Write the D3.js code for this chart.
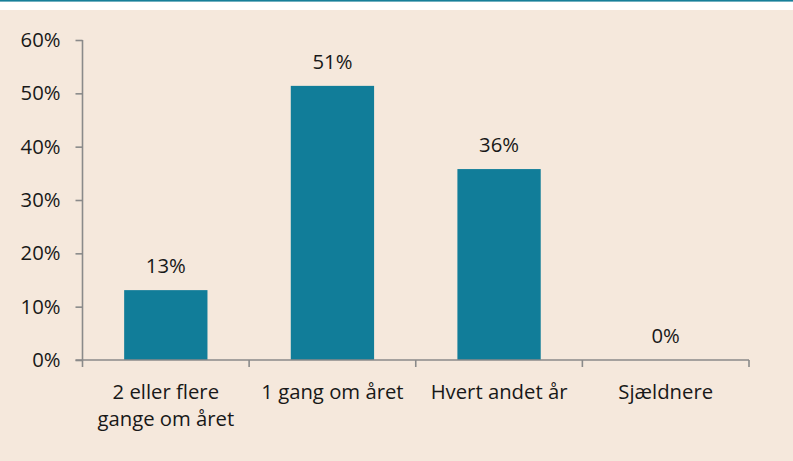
<!DOCTYPE html>
<html>
<head>
<meta charset="utf-8">
<script src="https://cdn.jsdelivr.net/npm/d3@7"></script>
<style>
  html, body { margin: 0; padding: 0; background: #ffffff; }
  svg { display: block; }
  text { font-family: "Open Sans", "Noto Sans", sans-serif; fill: #181818; }
</style>
</head>
<body>
<svg id="chart" width="793" height="461"></svg>
<script>
const categories = [["2 eller flere", "gange om året"], ["1 gang om året"], ["Hvert andet år"], ["Sjældnere"]];
const values = [13.1, 51.4, 35.8, 0];
const valueLabels = ["13%", "51%", "36%", "0%"];
const yTicks = [0, 10, 20, 30, 40, 50, 60];

const W = 793, H = 461;
const svg = d3.select("#chart");

// background
svg.append("rect").attr("x", 0).attr("y", 0).attr("width", W).attr("height", H).attr("fill", "#ffffff");
svg.append("rect").attr("x", 0).attr("y", 10).attr("width", W).attr("height", H - 10).attr("fill", "#f5e8dc");
svg.append("rect").attr("x", 0).attr("y", 0).attr("width", W).attr("height", 1.6).attr("fill", "#177f99");

const mLeft = 82.5, mRight = 749, mTop = 40, mBottom = 360;
const x = d3.scaleBand().domain(d3.range(categories.length)).range([mLeft, mRight]).paddingInner(0.5).paddingOuter(0.25);
const y = d3.scaleLinear().domain([0, 60]).range([mBottom, mTop]);

const axisColor = "#8a8a8a";
const fs = 20.3;

// bars
svg.append("g").selectAll("rect").data(values).join("rect")
  .attr("x", (d, i) => x(i))
  .attr("width", x.bandwidth())
  .attr("y", d => y(d))
  .attr("height", d => y(0) - y(d))
  .attr("fill", "#117d99");

// y axis
const yAxis = d3.axisLeft(y).tickValues(yTicks).tickSize(7).tickFormat(d => d + "%");
const gy = svg.append("g").attr("transform", `translate(${mLeft},0)`).call(yAxis);
gy.select(".domain").attr("stroke", axisColor).attr("stroke-width", 1.6).attr("d", `M0,${mTop}V${mBottom}`);
gy.selectAll(".tick line").attr("stroke", axisColor).attr("stroke-width", 1.6);
gy.selectAll(".tick text").attr("x", -22).attr("dy", "0.32em")
  .style("font-size", fs + "px").style("font-family", '"Open Sans", "Noto Sans", sans-serif').attr("fill", "#181818");

// x axis line with boundary ticks
const step = x.step();
const boundaries = d3.range(categories.length + 1).map(i => mLeft + i * step);
const gx = svg.append("g");
gx.append("line").attr("x1", mLeft - 7).attr("x2", mRight).attr("y1", mBottom).attr("y2", mBottom)
  .attr("stroke", axisColor).attr("stroke-width", 1.6);
gx.selectAll("line.bt").data(boundaries).join("line").attr("class", "bt")
  .attr("x1", d => d).attr("x2", d => d).attr("y1", mBottom).attr("y2", mBottom + 7)
  .attr("stroke", axisColor).attr("stroke-width", 1.6);

// category labels
const lab = svg.append("g").selectAll("text").data(categories).join("text")
  .attr("text-anchor", "middle")
  .style("font-size", fs + "px");
lab.each(function(d, i) {
  const t = d3.select(this);
  d.forEach((line, j) => {
    t.append("tspan").attr("x", x(i) + x.bandwidth() / 2).attr("y", 399 + j * 27).text(line);
  });
});

// value labels
svg.append("g").selectAll("text").data(values).join("text")
  .attr("text-anchor", "middle")
  .attr("x", (d, i) => x(i) + x.bandwidth() / 2)
  .attr("y", d => y(d) - 17)
  .style("font-size", fs + "px")
  .text((d, i) => valueLabels[i]);
</script>
</body>
</html>
